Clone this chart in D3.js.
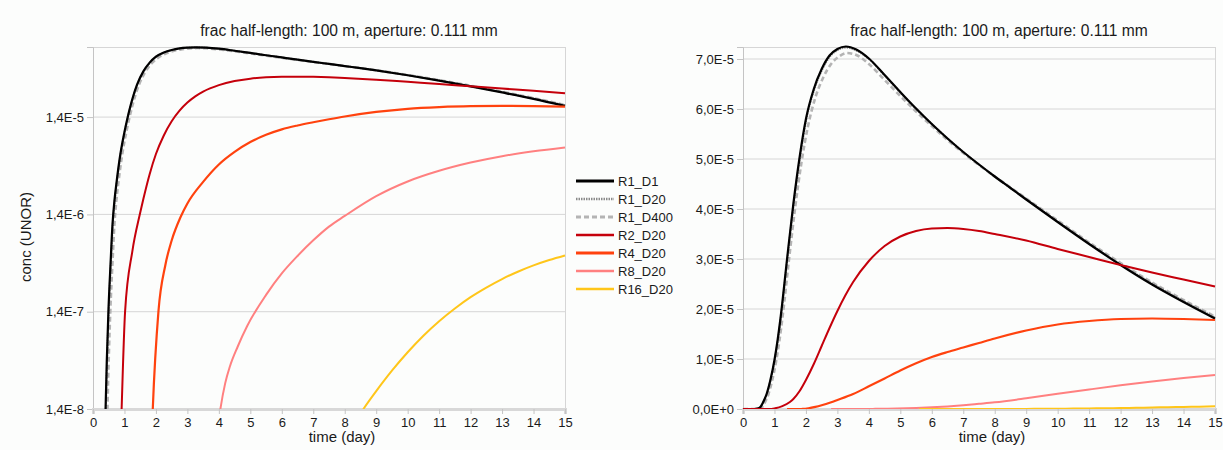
<!DOCTYPE html>
<html>
<head>
<meta charset="utf-8">
<script src="https://cdn.jsdelivr.net/npm/d3@7"></script>
<style>
  body { margin: 0; background: #fcfdfc; }
  text { font-family: "Liberation Sans", Arial, sans-serif; fill: #1a1a1a; }
</style>
</head>
<body>
<svg id="chart" width="1223" height="450"></svg>
<script>
// values are concentrations in units of 1E-5
const r1d1Time = [0, 0.3, 0.36, 0.40, 0.49, 0.56, 0.62, 0.68, 0.75, 0.87, 1.0, 1.1, 1.2, 1.4, 1.6, 1.8, 2.0, 2.25, 2.5, 2.75, 3.0, 3.27, 3.6, 4.0, 4.5, 5.0, 5.5, 6.0, 6.5, 7.0, 7.5, 8, 8.5, 9, 10, 11, 12, 13, 14, 15];
const r1d1Conc = [0, 0, 0.0003, 0.0014, 0.014, 0.045, 0.11, 0.19, 0.3, 0.58, 0.98, 1.38, 1.86, 3.0, 4.1, 5.04, 5.8, 6.4, 6.8, 7.07, 7.2, 7.25, 7.19, 7.01, 6.68, 6.34, 6.01, 5.7, 5.41, 5.14, 4.89, 4.65, 4.42, 4.19, 3.74, 3.3, 2.88, 2.49, 2.14, 1.81];

const r1d20Time = [0, 0.3, 0.37, 0.41, 0.50, 0.57, 0.63, 0.69, 0.76, 0.88, 1.01, 1.11, 1.21, 1.41, 1.61, 1.81, 2.01, 2.26, 2.51, 2.76, 3.01, 3.28, 3.6, 4.0, 4.5, 5.0, 5.5, 6.0, 6.5, 7.0, 7.5, 8, 8.5, 9, 10, 11, 12, 13, 14, 15];
const r1d20Conc = [0, 0, 0.0003, 0.0014, 0.014, 0.045, 0.11, 0.19, 0.3, 0.58, 0.98, 1.38, 1.86, 3.0, 4.09, 5.02, 5.78, 6.38, 6.78, 7.05, 7.18, 7.23, 7.17, 7.0, 6.67, 6.33, 6.0, 5.7, 5.41, 5.14, 4.89, 4.65, 4.42, 4.2, 3.75, 3.31, 2.89, 2.51, 2.16, 1.83];

const r1d400Time = [0, 0.34, 0.42, 0.46, 0.55, 0.62, 0.68, 0.74, 0.81, 0.93, 1.06, 1.16, 1.26, 1.46, 1.66, 1.86, 2.06, 2.3, 2.55, 2.8, 3.05, 3.3, 3.6, 4.0, 4.5, 5.0, 5.5, 6.0, 6.5, 7.0, 7.5, 8, 8.5, 9, 10, 11, 12, 13, 14, 15];
const r1d400Conc = [0, 0, 0.0003, 0.0014, 0.014, 0.045, 0.11, 0.19, 0.3, 0.58, 0.98, 1.38, 1.86, 2.98, 4.04, 4.94, 5.64, 6.23, 6.63, 6.9, 7.05, 7.12, 7.08, 6.9, 6.58, 6.26, 5.95, 5.66, 5.38, 5.12, 4.88, 4.65, 4.43, 4.21, 3.77, 3.33, 2.92, 2.53, 2.18, 1.85];

const r2d20Time = [0, 0.8, 0.86, 0.91, 1.02, 1.25, 1.49, 1.6, 1.8, 2.0, 2.25, 2.5, 2.75, 3.0, 3.25, 3.5, 4.0, 4.5, 5.0, 5.5, 6.0, 6.5, 7.0, 7.5, 8, 9, 10, 11, 12, 13, 14, 15];
const r2d20Conc = [0, 0, 0.0004, 0.0014, 0.014, 0.058, 0.14, 0.2, 0.36, 0.58, 0.9, 1.26, 1.62, 1.96, 2.27, 2.54, 2.96, 3.26, 3.45, 3.56, 3.61, 3.62, 3.6, 3.56, 3.5, 3.37, 3.2, 3.04, 2.88, 2.73, 2.59, 2.45];

const r4d20Time = [1.4, 1.85, 1.9, 2.08, 2.3, 2.5, 2.78, 3.0, 3.5, 4.0, 4.5, 5.0, 5.5, 6.0, 6.5, 7.0, 7.5, 8, 9, 10, 11, 12, 13, 14, 15];
const r4d20Conc = [0, 0.0005, 0.0014, 0.014, 0.042, 0.075, 0.13, 0.18, 0.30, 0.453, 0.61, 0.77, 0.914, 1.04, 1.14, 1.23, 1.32, 1.41, 1.57, 1.69, 1.76, 1.8, 1.81, 1.8, 1.78];

const r8d20Time = [2.8, 3.9, 4.05, 4.2, 4.35, 4.6, 4.9, 5.5, 6.0, 6.5, 7.0, 7.5, 8, 9, 10, 11, 12, 13, 14, 15];
const r8d20Conc = [0, 0.0006, 0.0014, 0.00255, 0.0038, 0.0061, 0.0099, 0.0207, 0.0344, 0.052, 0.0752, 0.104, 0.134, 0.214, 0.303, 0.39, 0.474, 0.551, 0.618, 0.678];

const r16d20Time = [5.6, 8.3, 8.6, 9, 9.5, 10, 10.5, 11, 11.5, 12, 12.5, 13, 13.5, 14, 14.5, 15];
const r16d20Conc = [0, 0.001, 0.0014, 0.00212, 0.00344, 0.00532, 0.00787, 0.0111, 0.015, 0.0196, 0.0246, 0.0301, 0.0358, 0.0416, 0.0472, 0.0526];

const seriesNames = ['R1_D1', 'R1_D20', 'R1_D400', 'R2_D20', 'R4_D20', 'R8_D20', 'R16_D20'];
const xTicks = d3.range(0, 16);
const linTicks = [0, 1, 2, 3, 4, 5, 6, 7];       // x 1E-5
const logTicks = [1.39e-8, 1.39e-7, 1.39e-6, 1.39e-5];
const title = 'frac half-length: 100 m, aperture: 0.111 mm';

const series = [
  { name: 'R1_D1', time: r1d1Time, conc: r1d1Conc, color: '#000000', width: 2.2, dash: null },
  { name: 'R1_D20', time: r1d20Time, conc: r1d20Conc, color: '#8a8a8a', width: 2, dash: '1.5,1' },
  { name: 'R1_D400', time: r1d400Time, conc: r1d400Conc, color: '#b4b4b4', width: 2.6, dash: '5,3' },
  { name: 'R2_D20', time: r2d20Time, conc: r2d20Conc, color: '#c5000b', width: 2, dash: null },
  { name: 'R4_D20', time: r4d20Time, conc: r4d20Conc, color: '#ff420e', width: 2.2, dash: null },
  { name: 'R8_D20', time: r8d20Time, conc: r8d20Conc, color: '#ff8080', width: 2, dash: null },
  { name: 'R16_D20', time: r16d20Time, conc: r16d20Conc, color: '#ffc61a', width: 2, dash: null },
];
series.forEach(s => { s.points = s.time.map((t, i) => ({ t, v: s.conc[i] * 1e-5 })); });
const drawOrder = ['R1_D400', 'R1_D20', 'R1_D1', 'R2_D20', 'R4_D20', 'R8_D20', 'R16_D20'];

const svg = d3.select('#chart');
const plotTop = 47, plotBottom = 409;
const fmt = v => d3.format('.1e')(v).replace('.', ',').replace('e', 'E');

function panel(id, left, right, log) {
  const x = d3.scaleLinear().domain([0, 15]).range([left, right]);
  const y = log
    ? d3.scaleLog().domain([1.39e-8, 7.3e-5]).range([plotBottom, plotTop])
    : d3.scaleLinear().domain([0, 7.24e-5]).range([plotBottom, plotTop]);
  const g = svg.append('g');

  g.append('clipPath').attr('id', 'clip' + id)
    .append('rect').attr('x', left).attr('y', plotTop - 3).attr('width', right - left + 2).attr('height', plotBottom - plotTop + 3);

  // grid
  const yt = log ? logTicks : linTicks.map(d => d * 1e-5);
  g.selectAll('.grid').data(yt).join('line')
    .attr('x1', left).attr('x2', right)
    .attr('y1', d => y(d)).attr('y2', d => y(d))
    .attr('stroke', '#d6d6d6').attr('stroke-width', 1);
  // frame
  g.append('line').attr('x1', left).attr('x2', right).attr('y1', plotTop + 0.5).attr('y2', plotTop + 0.5).attr('stroke', '#d6d6d6');
  g.append('line').attr('x1', right + 0.5).attr('x2', right + 0.5).attr('y1', plotTop).attr('y2', plotBottom).attr('stroke', '#d6d6d6');

  // y axis
  const ya = g.append('g').attr('transform', `translate(${left},0)`)
    .call(d3.axisLeft(y).tickValues(yt).tickFormat(fmt).tickSizeOuter(0).tickSize(6).tickPadding(3));
  ya.select('.domain').attr('stroke', '#c4c4c4');
  ya.selectAll('.tick line').attr('stroke', '#c4c4c4');
  ya.selectAll('.tick text').attr('font-size', 13).attr('font-family', null).attr('fill', '#1a1a1a');

  // x axis
  const xa = g.append('g').attr('transform', `translate(0,${plotBottom})`)
    .call(d3.axisBottom(x).tickValues(xTicks).tickFormat(d3.format('d')).tickSizeOuter(0).tickSize(5).tickPadding(4));
  xa.select('.domain').attr('stroke', '#d8d8d8').attr('stroke-width', 3);
  xa.selectAll('.tick line').attr('stroke', '#c4c4c4');
  xa.selectAll('.tick text').attr('font-size', 13).attr('font-family', null).attr('fill', '#1a1a1a');

  // series
  const line = d3.line()
    .defined(d => !log || d.v > 0)
    .x(d => x(d.t)).y(d => y(d.v))
    .curve(d3.curveMonotoneX);
  const lines = g.append('g').attr('clip-path', `url(#clip${id})`);
  drawOrder.forEach(n => {
    const s = series.find(q => q.name === n);
    lines.append('path').datum(s.points)
      .attr('d', line)
      .attr('fill', 'none')
      .attr('stroke', s.color)
      .attr('stroke-width', s.width)
      .attr('stroke-dasharray', s.dash)
      .attr('stroke-linejoin', 'round');
  });

  const cx = (left + right) / 2;
  g.append('text').attr('x', cx + 20).attr('y', 36).attr('text-anchor', 'middle')
    .attr('font-size', 15.6).text(title);
  g.append('text').attr('x', cx + 13).attr('y', 442).attr('text-anchor', 'middle')
    .attr('font-size', 15).text('time (day)');
}

panel('L', 93, 565, true);
panel('R', 743, 1215, false);

svg.append('text').attr('transform', 'translate(31,237) rotate(-90)')
  .attr('text-anchor', 'middle').attr('font-size', 15).text('conc (UNOR)');

// legend
const legend = svg.append('g');
seriesNames.forEach((n, i) => {
  const s = series.find(q => q.name === n);
  const yy = 181 + i * 18;
  legend.append('line').attr('x1', 576).attr('x2', 614).attr('y1', yy).attr('y2', yy)
    .attr('stroke', s.color).attr('stroke-width', s.width + 0.6).attr('stroke-dasharray', s.dash);
  legend.append('text').attr('x', 618).attr('y', yy + 5).attr('font-size', 13).text(n);
});
</script>
</body>
</html>
